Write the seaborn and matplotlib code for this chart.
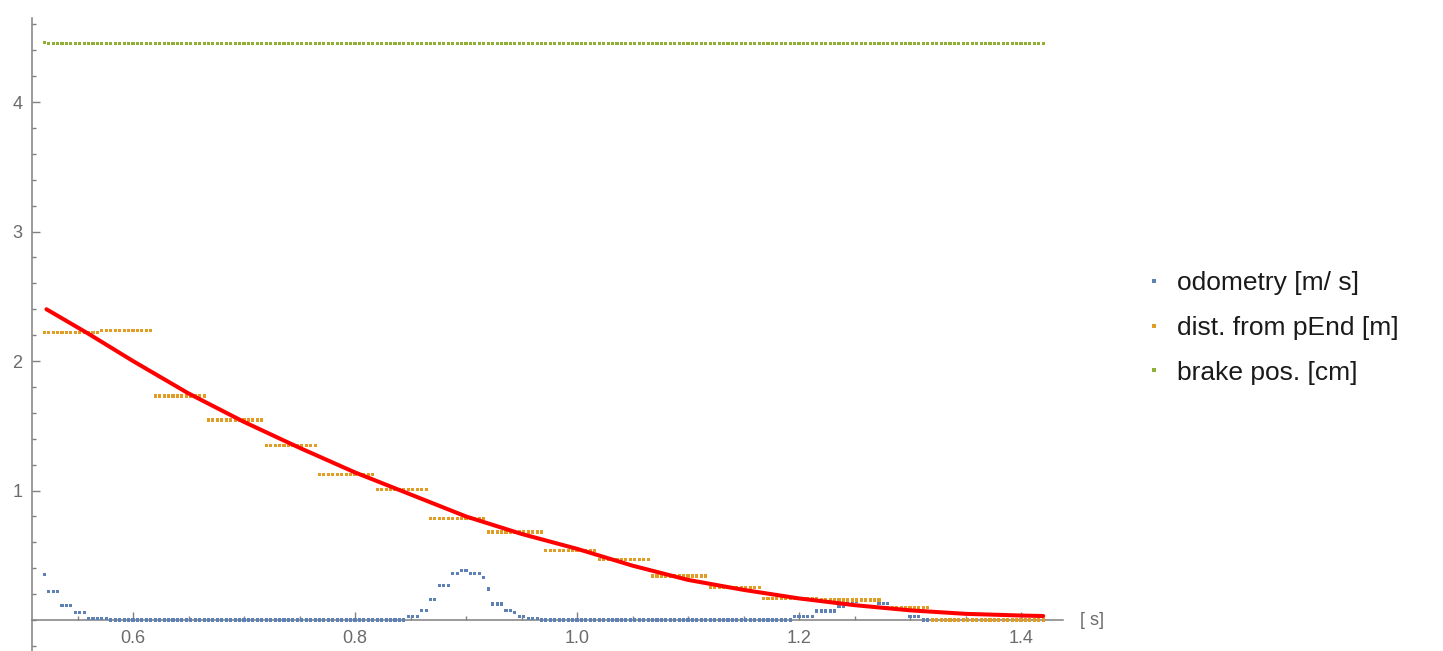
import numpy as np
import pandas as pd
import matplotlib
matplotlib.use("Agg")
import matplotlib.pyplot as plt
import seaborn as sns
from matplotlib.ticker import FixedLocator, MultipleLocator
from matplotlib.lines import Line2D

# ---- logged run (time in s) ----
t_first, t_last, t_step = 0.52, 1.42, 0.004          # logger sampling

# odometry [m/s]: value held from each switch time
odo_t = [0.520, 0.523, 0.536, 0.548, 0.560, 0.578,
         0.848, 0.859, 0.866, 0.874, 0.887, 0.896, 0.904, 0.914, 0.919,
         0.922, 0.934, 0.941, 0.947, 0.953, 0.965,
         1.195, 1.213, 1.234, 1.241, 1.253, 1.270, 1.284, 1.297, 1.312]
odo_v = [0.35, 0.22, 0.11, 0.055, 0.015, 0.0,
         0.03, 0.077, 0.162, 0.27, 0.36, 0.386, 0.36, 0.33, 0.24,
         0.124, 0.077, 0.06, 0.03, 0.015, 0.0,
         0.025, 0.07, 0.108, 0.141, 0.154, 0.131, 0.10, 0.025, 0.0]

# distance from pEnd [m]: updated at ~20 Hz
dist_t = [0.520, 0.570, 0.619, 0.668, 0.719, 0.767, 0.818, 0.867, 0.918,
          0.971, 1.019, 1.067, 1.119, 1.167, 1.220, 1.273, 1.318]
dist_v = [2.22, 2.235, 1.73, 1.545, 1.35, 1.125, 1.005, 0.785, 0.68,
          0.54, 0.47, 0.34, 0.25, 0.165, 0.155, 0.10, 0.0]

# brake position [cm]
brake_t = [0.520, 0.524]
brake_v = [4.46, 4.45]

# fitted distance curve
fit_t = [0.522, 0.56, 0.60, 0.65, 0.70, 0.75, 0.80, 0.85, 0.90, 0.95, 1.00,
         1.05, 1.10, 1.15, 1.20, 1.25, 1.30, 1.35, 1.40, 1.42]
fit_v = [2.40, 2.21, 2.00, 1.75, 1.53, 1.33, 1.14, 0.97, 0.80, 0.665, 0.55,
         0.42, 0.31, 0.233, 0.167, 0.115, 0.075, 0.048, 0.035, 0.031]

series_names = ["odometry [m/ s]", "dist. from pEnd [m]", "brake pos. [cm]"]
series_colors = ["#5E81B5", "#E19C24", "#8FB032"]

t = np.arange(t_first, t_last + 1e-9, t_step)


def held(switch_t, values, times):
    idx = np.searchsorted(np.asarray(switch_t), times, side="right") - 1
    return np.asarray(values)[np.clip(idx, 0, None)]


frames = []
for name, (st, sv) in zip(series_names,
                          [(odo_t, odo_v), (dist_t, dist_v), (brake_t, brake_v)]):
    frames.append(pd.DataFrame({"t": t, "value": held(st, sv, t), "series": name}))
log = pd.concat(frames, ignore_index=True)
fit = pd.DataFrame({"t": fit_t, "value": fit_v})

# ---- figure ----
sns.set_style("white")
plt.rcParams["font.family"] = ["Liberation Sans", "DejaVu Sans"]

W, H = 1443, 651
fig = plt.figure(figsize=(W / 100, H / 100), dpi=100)
ax = fig.add_axes([32 / W, 0, (1063 - 32) / W, (651 - 18) / H])

sns.scatterplot(data=log, x="t", y="value", hue="series", hue_order=series_names,
                palette=series_colors, marker="s", s=5, linewidth=0,
                legend=False, ax=ax, zorder=3)
sns.lineplot(data=fit, x="t", y="value", color="#FF0000", linewidth=2.9,
             ax=ax, zorder=4)

ax.set_xlim(0.509, 1.4378)
ax.set_ylim(-0.239, 4.649)
ax.set_xlabel("")
ax.set_ylabel("")

axis_grey = "#808080"
for side in ["top", "right"]:
    ax.spines[side].set_visible(False)
ax.spines["bottom"].set_position(("data", 0))
for side in ["left", "bottom"]:
    ax.spines[side].set_color(axis_grey)
    ax.spines[side].set_linewidth(1.1)

ax.xaxis.set_major_locator(FixedLocator([0.6, 0.8, 1.0, 1.2, 1.4]))
ax.xaxis.set_minor_locator(MultipleLocator(0.05))
ax.set_xticklabels(["0.6", "0.8", "1.0", "1.2", "1.4"])
ax.yaxis.set_major_locator(FixedLocator([1, 2, 3, 4]))
ax.yaxis.set_minor_locator(MultipleLocator(0.2))
ax.set_yticklabels(["1", "2", "3", "4"])

ax.tick_params(which="both", bottom=True, left=True, top=False, right=False,
               direction="in", color=axis_grey, width=1.0,
               labelcolor="#6b6b6b", labelsize=13)
ax.tick_params(which="major", length=6)
ax.tick_params(which="minor", length=3.2)
ax.tick_params(axis="x", pad=7)
ax.tick_params(axis="y", pad=7)

ax.annotate("[ s]", xy=(1, 0), xycoords=("axes fraction", "data"),
            xytext=(17, 0), textcoords="offset pixels", ha="left", va="center",
            color="#6b6b6b", fontsize=13, annotation_clip=False)

handles = [Line2D([], [], linestyle="none", marker="s", markersize=2.2,
                  markeredgewidth=0, color=c) for c in series_colors]
fig.legend(handles, series_names, loc="center left",
           bbox_to_anchor=(1133 / W, 1 - 328 / H), frameon=False,
           fontsize=19, handlelength=0.6, handletextpad=0.55,
           labelspacing=0.78, borderpad=0, labelcolor="#1a1a1a")

fig.savefig("out.png", dpi=100)
